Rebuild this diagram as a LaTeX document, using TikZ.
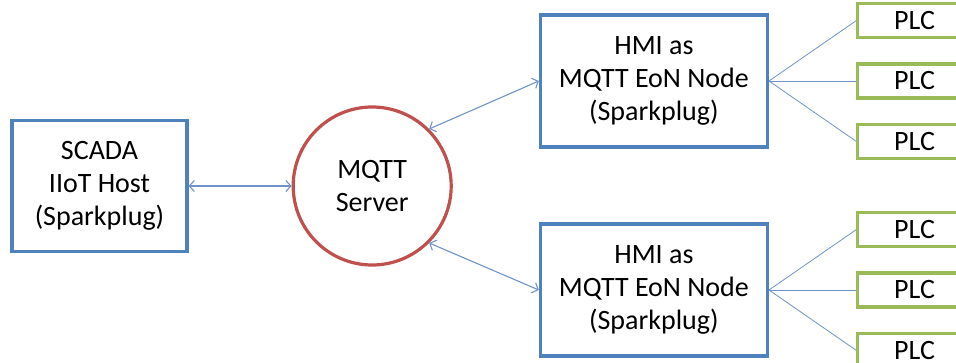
\documentclass[tikz,border=0pt]{standalone}
\usepackage{fontspec}
\setmainfont{Carlito}
\usepackage{xcolor}
\usepackage{tikz}
\usetikzlibrary{positioning,arrows.meta}
\definecolor{officeBlue}{HTML}{4F81BD}
\definecolor{officeRed}{HTML}{C0504D}
\definecolor{officeGreen}{HTML}{9BBB59}
\definecolor{linkBlue}{HTML}{6F93C6}

\begin{document}
\begin{tikzpicture}[every node/.style={align=center, text=black, font=\fontsize{28}{33}\selectfont, inner sep=0pt},
  hostbox/.style={rectangle, draw=officeBlue, line width=3.2pt, fill=white, minimum width=175pt, minimum height=131pt},
  serverball/.style={circle, draw=officeRed, line width=3.2pt, fill=white, minimum size=158pt},
  plcbox/.style={rectangle, draw=officeGreen, line width=3.2pt, fill=white, minimum width=114pt, minimum height=34pt},
  link/.style={draw=linkBlue, line width=1.1pt},
  >={Straight Barb[length=5pt,width=11pt]}]
\useasboundingbox (0,0) rectangle (956pt,363pt);
\node[hostbox] (scada) at (99.5pt,177pt) {SCADA \\ IIoT Host \\ (Sparkplug)};
\node[serverball] (mqtt) [right=103pt of scada] {MQTT \\ Server};
\node[hostbox, minimum width=227pt, minimum height=132pt] (hmiA) [right=86pt of mqtt, yshift=105pt] {HMI as \\ MQTT EoN Node \\ (Sparkplug)};
\node[hostbox, minimum width=227pt, minimum height=132pt] (hmiB) [right=86pt of mqtt, yshift=-104pt] {HMI as \\ MQTT EoN Node \\ (Sparkplug)};
\node[plcbox] (plcA2) [right=87pt of hmiA] {PLC};
\node[plcbox] (plcA1) [above=23pt of plcA2] {PLC};
\node[plcbox] (plcA3) [below=23pt of plcA2] {PLC};
\node[plcbox] (plcB2) [right=87pt of hmiB] {PLC};
\node[plcbox] (plcB1) [above=23pt of plcB2] {PLC};
\node[plcbox] (plcB3) [below=23pt of plcB2] {PLC};
\draw[<->, link] (scada.east) -- (mqtt.west);
\draw[<->, link] (mqtt.45) -- (hmiA.west);
\draw[<->, link] (mqtt.-45) -- (hmiB.west);
\foreach \p in {plcA1,plcA2,plcA3} \draw[link, line width=0.8pt] (hmiA.east) -- (\p.west);
\foreach \p in {plcB1,plcB2,plcB3} \draw[link, line width=0.8pt] (hmiB.east) -- (\p.west);
\end{tikzpicture}
\end{document}
